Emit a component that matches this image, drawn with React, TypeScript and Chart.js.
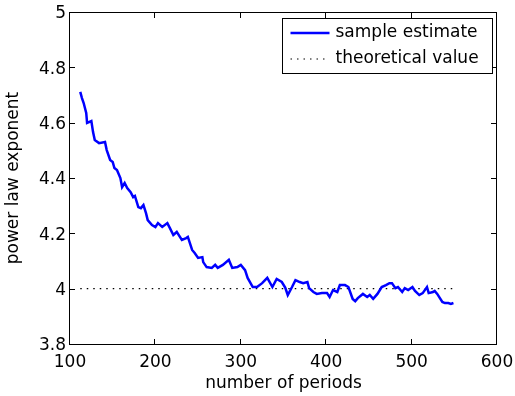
import React, { useEffect, useRef } from 'react';
import { Chart, registerables } from 'chart.js';

Chart.register(...registerables);

const periods = [112, 114, 116, 119, 120, 125, 127, 129, 134, 141, 143, 147, 150, 152, 155, 159, 161, 164, 167, 171,
  174, 176, 180, 183, 186, 189, 191, 196, 200, 203, 208, 214, 217, 221, 225, 231, 236, 238, 243, 246,
  250, 255, 256, 260, 266, 270, 273, 279, 286, 290, 296, 300, 305, 308, 314, 319, 325, 331, 337, 342,
  348, 352, 355, 360, 364, 369, 373, 378, 380, 385, 389, 395, 401, 404, 408, 413, 416, 422, 426, 431,
  434, 437, 443, 448, 451, 455, 460, 465, 470, 474, 477, 481, 484, 489, 492, 496, 501, 504, 509, 513,
  518, 520, 525, 527, 530, 536, 539, 543, 546, 549];

const estimate = [4.711, 4.689, 4.671, 4.635, 4.599, 4.606, 4.566, 4.537, 4.526, 4.53, 4.501, 4.465, 4.458, 4.436, 4.429, 4.4, 4.367, 4.382, 4.364, 4.349,
  4.331, 4.335, 4.295, 4.291, 4.302, 4.273, 4.248, 4.23, 4.223, 4.237, 4.223, 4.237, 4.219, 4.194, 4.205, 4.176, 4.183, 4.187, 4.14, 4.129,
  4.111, 4.114, 4.096, 4.078, 4.075, 4.086, 4.075, 4.086, 4.104, 4.075, 4.078, 4.086, 4.067, 4.039, 4.006, 4.006, 4.02, 4.039, 4.006, 4.035,
  4.024, 4.004, 3.977, 4.006, 4.031, 4.024, 4.02, 4.024, 4.002, 3.988, 3.981, 3.984, 3.984, 3.97, 3.995, 3.988, 4.013, 4.013, 4.006, 3.963,
  3.955, 3.966, 3.981, 3.97, 3.977, 3.963, 3.981, 4.006, 4.013, 4.02, 4.02, 4.002, 4.006, 3.988, 4.002, 3.995, 4.006, 3.992, 3.977, 3.984,
  4.006, 3.984, 3.988, 3.992, 3.981, 3.952, 3.948, 3.948, 3.945, 3.948];

const theoryPeriods = [112, 549];
const theoryValues = [4, 4];

const seriesNames = ['sample estimate', 'theoretical value'];
const xTicks = [100, 200, 300, 400, 500, 600];
const yTicks = [3.8, 4, 4.2, 4.4, 4.6, 4.8, 5];
const xTitle = 'number of periods';
const yTitle = 'power law exponent';

const FONT = "'DejaVu Sans', sans-serif";
const FONT_SIZE = 17;

export default function App() {
  const ref = useRef<HTMLCanvasElement>(null);

  useEffect(() => {
    const canvas = ref.current;
    if (!canvas) return;

    const framePlugin = {
      id: 'frame',
      afterDraw(chart: any) {
        const { ctx, chartArea: a, scales } = chart;
        const L = Math.round(a.left) - 1;
        const R = Math.round(a.right) - 1;
        const T = Math.round(a.top);
        const B = Math.round(a.bottom);
        const tl = 5;
        ctx.save();
        ctx.setLineDash([]);
        ctx.fillStyle = '#000';
        // axes box
        ctx.fillRect(L, T, R - L + 1, 1);
        ctx.fillRect(L, B, R - L + 1, 1);
        ctx.fillRect(L, T, 1, B - T + 1);
        ctx.fillRect(R, T, 1, B - T + 1);
        // inward ticks on all four sides
        for (const v of xTicks) {
          const px = Math.round(scales.x.getPixelForValue(v)) - 1;
          ctx.fillRect(px, B - tl, 1, tl);
          ctx.fillRect(px, T + 1, 1, tl);
        }
        for (const v of yTicks) {
          const py = Math.round(scales.y.getPixelForValue(v));
          ctx.fillRect(L + 1, py, tl, 1);
          ctx.fillRect(R - tl, py, tl, 1);
        }

        // legend box
        const w = 210, h = 55;
        const bx = Math.round(a.right) - 5 - w + 0.5;
        const by = Math.round(a.top) + 6 + 0.5;
        ctx.fillStyle = '#fff';
        ctx.fillRect(bx, by, w, h);
        ctx.strokeStyle = '#000';
        ctx.lineWidth = 1;
        ctx.strokeRect(bx, by, w, h);
        const rows = [by + 14.5, by + 40.5];
        chart.data.datasets.forEach((ds: any, i: number) => {
          const y = rows[i];
          ctx.beginPath();
          ctx.strokeStyle = ds.borderColor;
          ctx.lineWidth = ds.borderWidth;
          ctx.setLineDash(ds.borderDash || []);
          ctx.moveTo(bx + 8, y);
          ctx.lineTo(bx + 47, y);
          ctx.stroke();
          ctx.setLineDash([]);
          ctx.fillStyle = '#000';
          ctx.font = `${FONT_SIZE}px ${FONT}`;
          ctx.textBaseline = 'middle';
          ctx.textAlign = 'left';
          ctx.fillText(ds.label, bx + 53, y);
        });
        ctx.restore();
      },
    };

    const chart = new Chart(canvas, {
      type: 'line',
      data: {
        datasets: [
          {
            label: seriesNames[0],
            data: periods.map((p, i) => ({ x: p, y: estimate[i] })),
            borderColor: '#0000ff',
            borderWidth: 2.5,
            pointRadius: 0,
            tension: 0,
            fill: false,
          },
          {
            label: seriesNames[1],
            data: theoryPeriods.map((p, i) => ({ x: p, y: theoryValues[i] })),
            borderColor: '#000',
            borderWidth: 1.2,
            borderDash: [1.5, 5],
            pointRadius: 0,
            fill: false,
          },
        ],
      },
      options: {
        responsive: false,
        animation: false,
        devicePixelRatio: 1,
        layout: { padding: { left: 0, top: 12, right: 18, bottom: 0 } },
        plugins: {
          legend: { display: false },
          tooltip: { enabled: false },
        },
        scales: {
          x: {
            type: 'linear',
            min: 100,
            max: 600,
            afterBuildTicks: (s: any) => { s.ticks = xTicks.map((v) => ({ value: v })); },
            afterFit: (s: any) => { s.height = 52; s.paddingLeft = 0; s.paddingRight = 0; },
            grid: { display: false, drawTicks: false },
            border: { display: false },
            ticks: {
              color: '#000',
              padding: 8,
              maxRotation: 0,
              autoSkip: false,
              font: { family: FONT, size: FONT_SIZE },
              callback: (v: any) => String(v),
            },
            title: {
              display: true,
              text: xTitle,
              color: '#000',
              font: { family: FONT, size: FONT_SIZE },
              padding: { top: 0, bottom: 2 },
            },
          },
          y: {
            type: 'linear',
            min: 3.8,
            max: 5,
            afterBuildTicks: (s: any) => { s.ticks = yTicks.map((v) => ({ value: v })); },
            afterFit: (s: any) => { s.width = 70; s.paddingTop = 0; s.paddingBottom = 0; },
            grid: { display: false, drawTicks: false },
            border: { display: false },
            ticks: {
              color: '#000',
              padding: 4,
              labelOffset: 2,
              autoSkip: false,
              font: { family: FONT, size: FONT_SIZE },
              callback: (v: any) => String(Number(Number(v).toFixed(1))),
            },
            title: {
              display: true,
              text: yTitle,
              color: '#000',
              font: { family: FONT, size: FONT_SIZE },
              padding: { top: 3, bottom: 0 },
            },
          },
        },
      },
      plugins: [framePlugin],
    });

    return () => chart.destroy();
  }, []);

  return (
    <div style={{ position: 'fixed', left: 0, top: 0, width: 515, height: 396, background: '#fff' }}>
      <canvas ref={ref} width={515} height={396} style={{ display: 'block', width: 515, height: 396 }} />
    </div>
  );
}
